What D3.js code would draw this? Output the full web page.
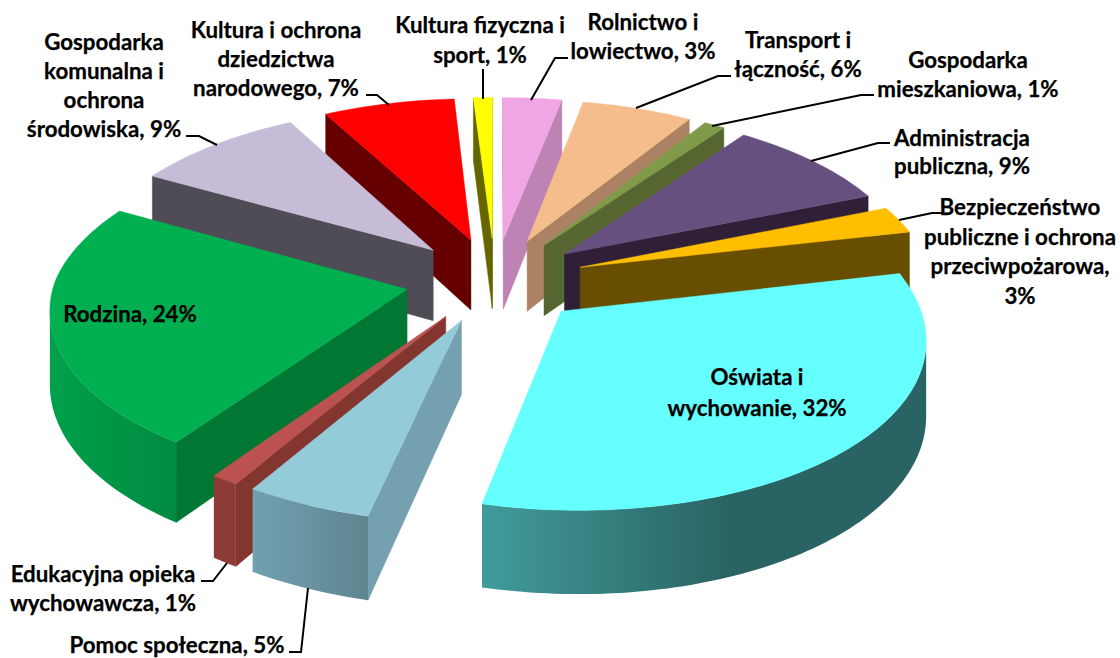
<!DOCTYPE html>
<html lang="pl">
<head>
<meta charset="utf-8">
<title>Wydatki</title>
<script src="https://d3js.org/d3.v7.min.js"></script>
<style>
  html, body { margin: 0; background: #fff; }
  text { font-family: Lato, sans-serif; font-weight: 700; fill: #000; stroke: #000; stroke-width: 0.25px; }
</style>
</head>
<body>
<svg id="chart" width="1120" height="658"></svg>
<script>
// Chart data, clockwise from 12 o'clock
const categories = ['Rolnictwo', 'Transport', 'Mieszkaniowa', 'Administracja', 'Bezpieczenstwo', 'Oswiata',
  'Pomoc', 'Edukacyjna', 'Rodzina', 'Komunalna', 'Kultura', 'Fizyczna']
const shares = [3.1, 5.8, 1.1, 8.9, 2.6, 32.4, 5.0, 1.1, 23.3, 9.0, 6.9, 1.0]
const labelLines = [
  ['Rolnictwo i', 'lowiectwo, 3%'],
  ['Transport i', 'łączność, 6%'],
  ['Gospodarka', 'mieszkaniowa, 1%'],
  ['Administracja', 'publiczna, 9%'],
  ['Bezpieczeństwo', 'publiczne i ochrona', 'przeciwpożarowa,', '3%'],
  ['Oświata i', 'wychowanie, 32%'],
  ['Pomoc społeczna, 5%'],
  ['Edukacyjna opieka', 'wychowawcza, 1%'],
  ['Rodzina, 24%'],
  ['Gospodarka', 'komunalna i', 'ochrona', 'środowiska, 9%'],
  ['Kultura i ochrona', 'dziedzictwa', 'narodowego, 7%'],
  ['Kultura fizyczna i', 'sport, 1%']
]

// Colours per slice
const topColors = ['#f0a6e4', '#f5bc8c', '#7f9a48', '#66507f', '#ffbf00', '#66ffff',
  '#93cbd9', '#bc524f', '#00b050', '#c6bcd8', '#ff0000', '#ffff00']
const sideColors = ['#be83b5', '#ab8263', '#556630', '#2f2038', '#674e00', '#296363',
  '#75a0af', '#83352f', '#007733', '#4f4c56', '#660000', '#666600']
const rimStart = ['#be83b5', '#ab8263', '#556630', '#2f2038', '#674e00', '#429b9b',
  '#72a0b1', '#8c3b38', '#00a04c', '#4f4c56', '#660000', '#666600']
const rimEnd = ['#be83b5', '#ab8263', '#556630', '#2f2038', '#674e00', '#296363',
  '#5f8590', '#8c3b38', '#008b40', '#4f4c56', '#660000', '#666600']
const rimStop = [1, 1, 1, 1, 1, 0.56, 1, 1, 1, 1, 1, 1]

// Label placement: text centre, first baseline, line steps, leader line
const labelX = [643, 798, 968, 962, 1020, 757, 177, 103, 130, 104, 276, 480]
const labelY = [30, 48, 68, 146, 215, 385, 653, 582, 322, 50, 38, 33]
const lineStep = [29, 29, 29, 28, 29.5, 31, 0, 29, 0, 29, 29, 30]
const leaders = [
  [[568, 58], [555, 58], [531, 100]],
  [[731, 76], [718, 76], [636, 108]],
  [[874, 95], [861, 95], [712, 126]],
  [[890, 143], [878, 143], [811, 161]],
  [[943, 213], [932, 213], [899, 220]],
  null,
  [[289, 652], [301, 652], [308, 588]],
  [[201, 581], [213, 581], [227, 563]],
  null,
  [[186, 136], [199, 136], [217, 145]],
  [[366, 95], [377, 95], [389, 105]],
  [[483, 69], [483, 99]]
]

// Pie geometry
const centerX = 495
const centerY = 280
const radius = 352
const explode = 90
const depth = 72
const tilt = 0.475
const persp = 0.00034
const frontShear = 0.025

const svg = d3.select('#chart')
const defs = svg.append('defs')
const path = d3.line()

/**
 * Projects a point of the pie's plane to the screen.
 *
 * @param {number} x Distance to the right of the pie's centre
 * @param {number} y Distance towards the viewer
 * @param {number} z 0 on the top face, 1 on the bottom face
 * @returns {number[]} The screen position
 */
function project (x, y, z) {
  const s = 1 / (1 - persp * y)
  return [centerX + x * s + frontShear * Math.max(0, y), centerY + (tilt * y + depth * z) * s]
}

/**
 * Draws one exploded slice as top face, radial walls and rim.
 *
 * @param {object} g The slice's group
 * @param {object} slice The d3.pie item
 * @param {number} i The index of the slice
 */
function drawSlice (g, slice, i) {
  const mid = (slice.startAngle + slice.endAngle) / 2
  const ox = explode * Math.sin(mid)
  const oy = -explode * Math.cos(mid)
  const at = (a, z) => project(ox + radius * Math.sin(a), oy - radius * Math.cos(a), z)
  const apex = z => project(ox, oy, z)

  const steps = Math.max(4, Math.ceil((slice.endAngle - slice.startAngle) / 0.02))
  const angles = d3.range(steps + 1).map(k => slice.startAngle + (slice.endAngle - slice.startAngle) * k / steps)

  // rim: keep only the segments turned to the viewer
  const topRim = []
  const bottomRim = []
  d3.pairs(angles).forEach(([a, b]) => {
    const quad = [at(a, 0), at(b, 0), at(b, 1), at(a, 1)]
    if (d3.polygonArea(quad) > 0) {
      if (!topRim.length) {
        topRim.push(quad[0])
        bottomRim.push(quad[3])
      }
      topRim.push(quad[1])
      bottomRim.push(quad[2])
    }
  })

  const walls = [
    [apex(0), at(slice.startAngle, 0), at(slice.startAngle, 1), apex(1)],
    [at(slice.endAngle, 0), apex(0), apex(1), at(slice.endAngle, 1)]
  ]
  walls.filter(quad => d3.polygonArea(quad) > 0).forEach(quad => {
    g.append('path')
      .attr('d', path(quad) + 'Z')
      .attr('fill', sideColors[i])
      .attr('stroke', sideColors[i])
      .attr('stroke-width', 0.5)
  })

  if (topRim.length) {
    const grad = defs.append('linearGradient').attr('id', 'rim' + i)
    grad.append('stop').attr('offset', 0).attr('stop-color', rimStart[i])
    grad.append('stop').attr('offset', rimStop[i]).attr('stop-color', rimEnd[i])
    g.append('path')
      .attr('d', path(topRim.concat(bottomRim.reverse())) + 'Z')
      .attr('fill', 'url(#rim' + i + ')')
  }

  const topFace = [apex(0)].concat(angles.map(a => at(a, 0)))
  g.append('path')
    .attr('d', path(topFace) + 'Z')
    .attr('fill', topColors[i])
    .attr('stroke', topColors[i])
    .attr('stroke-width', 0.5)
}

const slices = d3.pie().sort(null).startAngle(0).endAngle(2 * Math.PI)(shares)

// back slices first, front slices paint over them
const order = d3.range(slices.length).sort((a, b) => {
  const midA = (slices[a].startAngle + slices[a].endAngle) / 2
  const midB = (slices[b].startAngle + slices[b].endAngle) / 2
  return d3.ascending(-Math.cos(midA), -Math.cos(midB))
})

const pieGroup = svg.append('g').attr('class', 'pie')
order.forEach(i => {
  drawSlice(pieGroup.append('g').attr('class', 'slice ' + categories[i]), slices[i], i)
})

// Leader lines
svg.append('g').selectAll('path')
  .data(leaders.filter(d => d))
  .join('path')
  .attr('d', d => path(d))
  .attr('fill', 'none')
  .attr('stroke', '#000')
  .attr('stroke-width', 2)

// Data labels
labelLines.forEach((lines, i) => {
  svg.append('text')
    .attr('text-anchor', 'middle')
    .attr('font-size', 22.3)
    .selectAll('tspan')
    .data(lines)
    .join('tspan')
    .attr('x', labelX[i])
    .attr('y', (d, k) => labelY[i] + k * lineStep[i])
    .text(d => d)
})
</script>
</body>
</html>
